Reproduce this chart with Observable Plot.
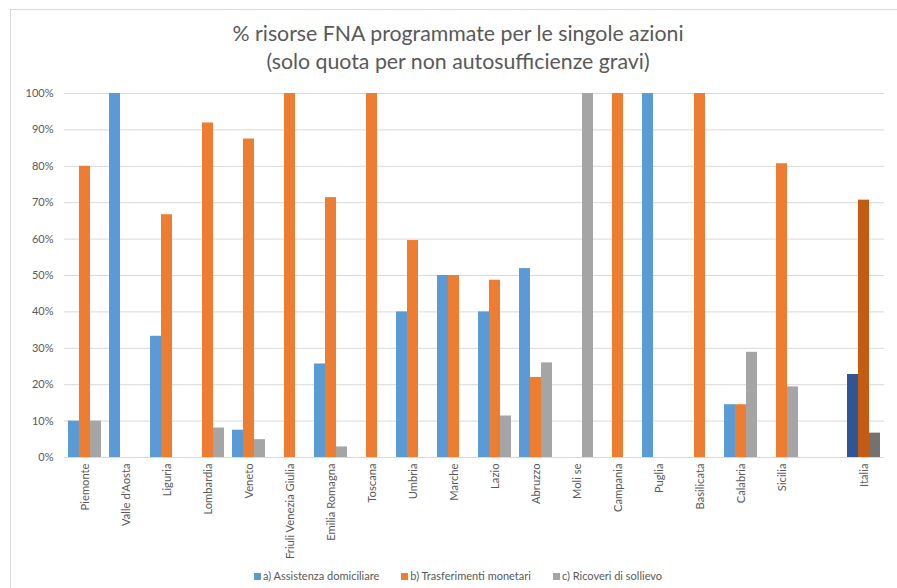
<!DOCTYPE html>
<html>
<head>
<meta charset="utf-8">
<script src="https://cdn.jsdelivr.net/npm/d3@7"></script>
<script src="https://cdn.jsdelivr.net/npm/@observablehq/plot@0.6"></script>
<style>
  html, body { margin: 0; padding: 0; background: #fff; }
  #wrap { position: relative; width: 897px; height: 588px; overflow: hidden; font-family: Lato, "Open Sans", sans-serif; }
  #border { position: absolute; left: 10px; top: 9px; width: 1000px; height: 1000px; border-left: 1px solid #D9D9D9; border-top: 1px solid #D9D9D9; }
  #title { position: absolute; left: 0; width: 916px; top: 19px; text-align: center; font-size: 21.3px; line-height: 28px; color: #595959; }
  #legend { position: absolute; left: 0; width: 916px; top: 569px; text-align: center; font-size: 11px; color: #595959; white-space: nowrap; }
  #legend span.item { margin: 0 11px; }
  #legend span.sw { display: inline-block; width: 7px; height: 7px; margin-right: 2px; vertical-align: 0px; }
  #chart { position: absolute; left: 0; top: 0; }
</style>
</head>
<body>
<div id="wrap">
  <div id="border"></div>
  <div id="chart"></div>
  <div id="title">% risorse FNA programmate per le singole azioni<br>(solo quota per non autosufficienze gravi)</div>
  <div id="legend"></div>
</div>
<script>
const regions = ["Piemonte", "Valle d'Aosta", "Liguria", "Lombardia", "Veneto", "Friuli Venezia Giulia", "Emilia Romagna", "Toscana", "Umbria", "Marche", "Lazio", "Abruzzo", "Moli se", "Campania", "Puglia", "Basilicata", "Calabria", "Sicilia", " ", "Italia"];
const series = ["a) Assistenza domiciliare", "b) Trasferimenti monetari", "c) Ricoveri di sollievo"];
// values in %, per region (same order as regions, blank slot has no data)
const assistenza = [10, 100, 33.3, 0, 7.5, 0, 25.7, 0, 40, 50, 40, 51.9, 0, 0, 100, 0, 14.5, 0, null, 22.8];
const trasferimenti = [80, 0, 66.7, 91.9, 87.5, 100, 71.4, 100, 59.6, 50, 48.7, 22, 0, 100, 0, 100, 14.5, 80.7, null, 70.7];
const ricoveri = [10, 0, 0, 8.1, 4.9, 0, 2.9, 0, 0, 0, 11.4, 26, 100, 0, 0, 0, 28.9, 19.4, null, 6.7];
const yTicks = [0, 10, 20, 30, 40, 50, 60, 70, 80, 90, 100];
const colors = ["#5B9BD5", "#ED7D31", "#A5A5A5"];
const colorsTotal = ["#2F5597", "#C55A11", "#767171"];
const totalRegion = "Italia";

const valueArrays = [assistenza, trasferimenti, ricoveri];
const data = [];
regions.forEach((r, i) => {
  valueArrays.forEach((arr, k) => {
    data.push({region: r, series: series[k], value: arr[i] == null ? null : arr[i] / 100, k});
  });
});

const plot = Plot.plot({
  width: 897,
  height: 588,
  marginLeft: 55,
  marginRight: 5,
  marginTop: 93,
  marginBottom: 131,
  style: {fontFamily: "Lato, 'Open Sans', sans-serif", color: "#595959", background: "transparent"},
  fx: {domain: regions, padding: 0, label: null},
  x: {domain: series, paddingInner: 0, paddingOuter: 0.245, axis: null},
  y: {domain: [0, 1], label: null},
  color: {type: "identity"},
  marks: [
    Plot.gridY(yTicks.map(t => t / 100), {stroke: "#D9D9D9", strokeOpacity: 1, strokeWidth: 1}),
    Plot.barY(data, {
      fx: "region",
      x: "series",
      y: "value",
      fill: d => d.region === totalRegion ? colorsTotal[d.k] : colors[d.k]
    }),
    Plot.axisY(yTicks.map(t => t / 100), {
      tickFormat: d3.format(".0%"),
      tickSize: 0,
      tickPadding: 11,
      fontSize: 11,
      fill: "#595959",
      label: null,
      facetAnchor: "left"
    }),
    Plot.axisFx({
      anchor: "bottom",
      tickSize: 0,
      tickPadding: 6,
      tickRotate: -90,
      fontSize: 11.2,
      fill: "#595959",
      label: null
    })
  ]
});
document.getElementById("chart").appendChild(plot);

const legend = document.getElementById("legend");
series.forEach((s, k) => {
  const item = document.createElement("span");
  item.className = "item";
  const sw = document.createElement("span");
  sw.className = "sw";
  sw.style.background = colors[k];
  item.appendChild(sw);
  item.appendChild(document.createTextNode(s));
  legend.appendChild(item);
});
</script>
</body>
</html>
